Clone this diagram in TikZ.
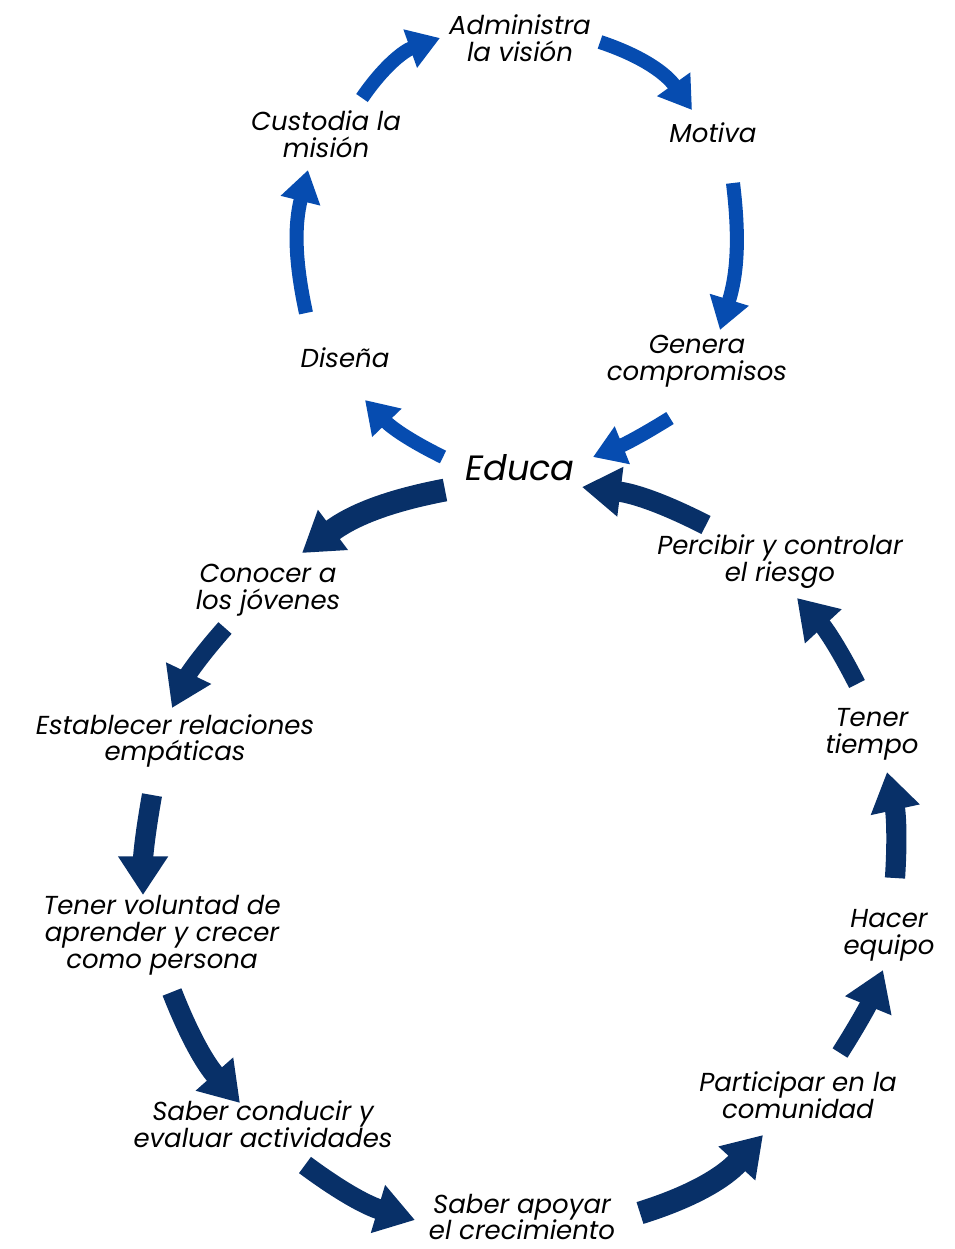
\documentclass[tikz,border=0pt]{standalone}
\usepackage{fontspec}
\setmainfont{Poppins}
\usetikzlibrary{arrows.meta}
\definecolor{visionblue}{RGB}{6,76,176}
\definecolor{navyblue}{RGB}{8,48,104}
\tikzset{
  steptext/.style={align=center, inner sep=0pt, font=\itshape\fontsize{14.8}{15.3}\selectfont},
  uparrow/.style={visionblue, line width=8pt, -{Triangle[width=22pt,length=18pt]}},
  lowarrow/.style={navyblue, line width=11.5pt, -{Triangle[width=27pt,length=22pt]}},
}
\begin{document}
\begin{tikzpicture}[x=0.02cm, y=-0.02cm]
  \useasboundingbox (0,0) rectangle (955,1249);

  % Center word
  \node[steptext, font=\itshape\fontsize{20}{22}\selectfont] (educa) at (520,468) {Educa};

  % Upper loop
  \node[steptext] (disena) at (345,358) {Diseña};
  \node[steptext] (custodia) at (326,134) {Custodia la\\misión};
  \node[steptext] (administra) at (520,38) {Administra\\la visión};
  \node[steptext] (motiva) at (713,133) {Motiva};
  \node[steptext] (genera) at (697,361) {Genera\\compromisos};

  % Lower loop
  \node[steptext] (conocer) at (268,590) {Conocer a\\los jóvenes};
  \node[steptext] (establecer) at (175,741) {Establecer relaciones\\empáticas};
  \node[steptext] (voluntad) at (162,935) {Tener voluntad de\\aprender y crecer\\como persona};
  \node[steptext] (conducir) at (263,1124) {Saber conducir y\\evaluar actividades};
  \node[steptext] (apoyar) at (522,1217) {Saber apoyar\\el crecimiento};
  \node[steptext] (participar) at (798,1095) {Participar en la\\comunidad};
  \node[steptext] (equipo) at (889,935) {Hacer\\equipo};
  \node[steptext] (tiempo) at (872,734) {Tener\\tiempo};
  \node[steptext] (percibir) at (780,562) {Percibir y controlar\\el riesgo};

  % Arrow ends
  \coordinate (u1a) at (362,98);   \coordinate (u1b) at (440,38);
  \coordinate (u2a) at (600,42);   \coordinate (u2b) at (692,110);
  \coordinate (u3a) at (733,183);  \coordinate (u3b) at (720,330);
  \coordinate (u4a) at (670,418);  \coordinate (u4b) at (593,457);
  \coordinate (u5a) at (443,457);  \coordinate (u5b) at (365,400);
  \coordinate (u6a) at (306,313);  \coordinate (u6b) at (308,170);

  \coordinate (l1a) at (445,490);  \coordinate (l1b) at (302,553);
  \coordinate (l2a) at (225,628);  \coordinate (l2b) at (172,708);
  \coordinate (l3a) at (152,795);  \coordinate (l3b) at (143,895);
  \coordinate (l4a) at (172,992);  \coordinate (l4b) at (240,1103);
  \coordinate (l5a) at (305,1165); \coordinate (l5b) at (415,1220);
  \coordinate (l6a) at (640,1213); \coordinate (l6b) at (763,1135);
  \coordinate (l7a) at (840,1053); \coordinate (l7b) at (883,970);
  \coordinate (l8a) at (895,878);  \coordinate (l8b) at (887,772);
  \coordinate (l9a) at (857,684);  \coordinate (l9b) at (797,598);
  \coordinate (l10a) at (706,525); \coordinate (l10b) at (582,487);

  % Upper arrows
  \draw[uparrow] (u1a) to[bend left=18] (u1b);
  \draw[uparrow] (u2a) to[bend left=18] (u2b);
  \draw[uparrow] (u3a) to[bend left=12] (u3b);
  \draw[uparrow] (u4a) to[bend left=5] (u4b);
  \draw[uparrow] (u5a) to[bend left=10] (u5b);
  \draw[uparrow] (u6a) to[bend left=13] (u6b);

  % Lower arrows
  \draw[lowarrow, line width=13pt] (l1a) to[bend right=13] (l1b);
  \draw[lowarrow, line width=10pt] (l2a) to[bend right=8] (l2b);
  \draw[lowarrow] (l3a) to[bend right=5] (l3b);
  \draw[lowarrow] (l4a) to[bend right=10] (l4b);
  \draw[lowarrow] (l5a) to[bend right=10] (l5b);
  \draw[lowarrow, line width=13pt] (l6a) to[bend right=15] (l6b);
  \draw[lowarrow, line width=10pt] (l7a) to[bend right=5] (l7b);
  \draw[lowarrow] (l8a) to[bend right=8] (l8b);
  \draw[lowarrow, line width=10pt] (l9a) to[bend right=8] (l9b);
  \draw[lowarrow] (l10a) to[bend right=10] (l10b);
\end{tikzpicture}
\end{document}
